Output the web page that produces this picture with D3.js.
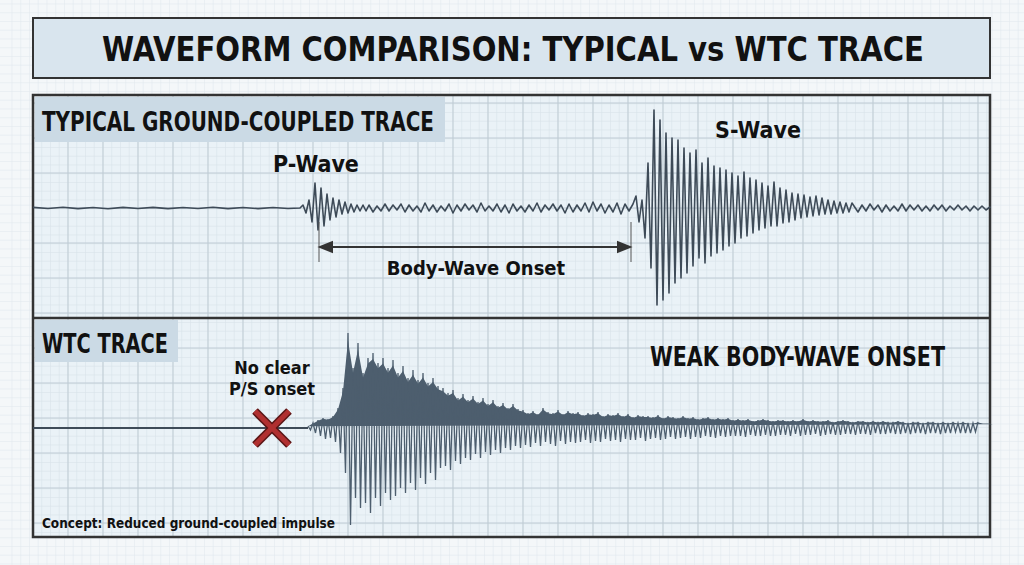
<!DOCTYPE html>
<html><head><meta charset="utf-8">
<script src="https://cdn.jsdelivr.net/npm/d3@7"></script>
<style>body{margin:0;background:#f4f7f9}text{font-family:"Liberation Sans Narrow","DejaVu Sans Condensed",sans-serif;font-weight:bold;fill:#111}</style>
</head><body><svg id="c" width="1024" height="565"></svg>
<script>
// Typical trace: segments of alternating peak amplitudes (time units 0..957)
const topSegments = [
 {start:0, step:15, values:[0.6,-0.5,0.7,-0.6,0.5,-0.7,0.6,-0.5,0.6,-0.6,0.5,-0.5,0.7,-0.6,0.5,-0.6,0.5,-0.5]},
 {start:267, step:3, values:[0,3,-5,8,-14,25,-22,20,-18,14,-12,10,-9,8,-6,6,-5,4,-4,3,-3,3,-3]},
 {start:336, step:4, values:[3,-4,2,-3,4,-3,3,-2,4,-4,3,-3,2,-4,5,-3,3,-4,2,-3,4,-5,3,-3,4,-2,3,-4,5,-3,2,-3,4,-4,3,-5,4,-3,2,-4,3,-3,5,-4,3,-2,4,-3,3,-5,4,-4,3,-3,5,-4,6,-3,4,-5,3,-4,5,-6,4,-3]},
 {start:600, step:3, values:[4,12,-14,8,-30,45,-60,98,-97,88,-92,75,-85,70,-75,68,-70,60,-65,55,-58,58,-50,45,-55,50,-48,42,-45,40,-42,38,-38,35,-35,32,-30,36,-28,30,-25,28,-22,25,-20,22,-18,26,-18,20,-15,18,-14,15,-12,14,-10,13,-9,11,-8,12,-7,10,-6,8,-6,7,-5,6,-5,5,-4,5]},
 {start:825, step:4, values:[-4,3,-3,4,-2,3,-4,3,-3,2,-3,4,-3,3,-2,3,-3,2,-3,3,-2,3,-3,2,-2,3,-2,2,-3,2,-2,2,-2,1]}
];
// WTC trace envelope (upper and lower magnitudes), start 275, step 5
const wtcStart = 275, wtcStep = 5;
const wtcUpper = [2,5,8,10,9,12,20, 40,95,60,85,55,70,75,65,70,60,68,55,62,50,58,48,55,45,50,42,
 40,35,38,30,34,28,32,26,30,24,28,22,25,20,24,19,
 18,15,17,14,20,16,15,18,14,17,15,16,13,15,14,16,12,14,13,15,12,14,11,13,12,12,11,13,10,12,11,10,12,10,11,9,10,11,9,10,9,10,8,
 9,8,9,7,8,9,8,7,8,8,7,8,7,9,7,8,7,7,8,6,7,8,7,6,7,7,6,7,6,7,6,6,7,6,5,6,6,5,6,6,5,6,5,6,5,6,5,5,6,5,5,4];
const wtcLower = [2,5,8,11,10,14,25, 45,97,70,80,75,85,70,78,65,72,68,60,65,55,62,50,56,45,52,40,
 38,42,33,36,30,32,26,30,24,27,22,25,20,22,18,20,
 17,19,15,18,14,16,18,13,16,14,15,14,12,15,13,14,11,13,12,14,11,12,12,10,13,11,10,12,11,9,11,10,9,11,9,10,8,9,10,8,9,8,8,
 8,9,7,8,8,7,8,8,7,7,8,6,8,7,7,6,8,7,6,7,7,6,6,7,6,6,7,5,6,6,5,6,6,5,6,5,5,6,5,5,6,5,5,4,5,5,5,4];

const svg = d3.select("#c");
const X0=33, X1=990;
const g0 = svg.append("g");
for(let x=12;x<1024;x+=8.75) g0.append("line").attr("x1",x).attr("x2",x).attr("y1",0).attr("y2",565).attr("stroke","#e3e9ee").attr("stroke-width",0.6);
for(let y=4;y<565;y+=8.75) g0.append("line").attr("y1",y).attr("y2",y).attr("x1",0).attr("x2",1024).attr("stroke","#e3e9ee").attr("stroke-width",0.6);
svg.append("rect").attr("x",X0).attr("y",95).attr("width",X1-X0).attr("height",442).attr("fill","#eaf2f7");
const gg = svg.append("g");
for(let x=X0;x<=X1;x+=8.75) gg.append("line").attr("x1",x).attr("x2",x).attr("y1",95).attr("y2",537).attr("stroke","#d9e3ea").attr("stroke-width",0.6);
for(let y=95;y<=537;y+=8.75) gg.append("line").attr("y1",y).attr("y2",y).attr("x1",X0).attr("x2",X1).attr("stroke","#d9e3ea").attr("stroke-width",0.6);
for(let x=X0+35;x<X1;x+=35) gg.append("line").attr("x1",x).attr("x2",x).attr("y1",95).attr("y2",537).attr("stroke","#bfcbd4").attr("stroke-width",1);
for(let y=103;y<537;y+=35) gg.append("line").attr("y1",y).attr("y2",y).attr("x1",X0).attr("x2",X1).attr("stroke","#bfcbd4").attr("stroke-width",1);
svg.append("rect").attr("x",X0).attr("y",95).attr("width",X1-X0).attr("height",442).attr("fill","none").attr("stroke","#333").attr("stroke-width",2.5);
svg.append("line").attr("x1",X0).attr("x2",X1).attr("y1",318).attr("y2",318).attr("stroke","#333").attr("stroke-width",2.5);
svg.append("rect").attr("x",X0).attr("y",18).attr("width",X1-X0).attr("height",60).attr("fill","#d9e5ee").attr("stroke","#333").attr("stroke-width",2);
svg.append("text").attr("x",102).attr("y",61).attr("font-size",33).attr("textLength",822).attr("lengthAdjust","spacingAndGlyphs").text("WAVEFORM COMPARISON: TYPICAL vs WTC TRACE");

const x = d3.scaleLinear().domain([0,957]).range([X0,X1]);
const yTop = d3.scaleLinear().domain([-100,100]).range([308,108]);
const yBot = d3.scaleLinear().domain([-100,100]).range([528,328]);

const pts=[];
topSegments.forEach(s=>s.values.forEach((v,i)=>pts.push([s.start+i*s.step,v])));
pts.push([957,0]);
svg.append("path").attr("d",d3.line().x(d=>x(d[0])).y(d=>yTop(d[1]))(pts)).attr("fill","none").attr("stroke","#3e4b58").attr("stroke-width",1.6).attr("stroke-linejoin","round");

svg.append("line").attr("x1",x(0)).attr("x2",x(wtcStart)).attr("y1",yBot(0)).attr("y2",yBot(0)).attr("stroke","#3e4b58").attr("stroke-width",2);
const env = wtcUpper.map((u,i)=>({t:wtcStart+i*wtcStep,u,l:wtcLower[i]}));
svg.append("path").attr("d",d3.area().x(d=>x(d.t)).y0(d=>yBot(-d.l*0.92)).y1(d=>yBot(d.u*0.92))(env)).attr("fill","#4d5e6e");
const zz=[];
env.forEach(d=>{zz.push([d.t,d.u]);zz.push([d.t+wtcStep/2,-d.l]);});
svg.append("path").attr("d",d3.line().x(d=>x(d[0])).y(d=>yBot(d[1]))(zz)).attr("fill","none").attr("stroke","#4d5e6e").attr("stroke-width",1.3);

svg.append("rect").attr("x",35).attr("y",97).attr("width",410).attr("height",45).attr("fill","#cbdae5");
svg.append("text").attr("x",42).attr("y",131).attr("font-size",26).attr("textLength",392).attr("lengthAdjust","spacingAndGlyphs").text("TYPICAL GROUND-COUPLED TRACE");
svg.append("rect").attr("x",35).attr("y",320).attr("width",143).attr("height",42).attr("fill","#cbdae5");
svg.append("text").attr("x",42).attr("y",353).attr("font-size",26).attr("textLength",126).attr("lengthAdjust","spacingAndGlyphs").text("WTC TRACE");
svg.append("text").attr("x",316).attr("y",172).attr("text-anchor","middle").attr("font-size",23).text("P-Wave");
svg.append("text").attr("x",758).attr("y",138).attr("text-anchor","middle").attr("font-size",23).text("S-Wave");
svg.append("defs").html('<marker id="ah" viewBox="0 0 10 10" refX="9" refY="5" markerWidth="8" markerHeight="8" orient="auto-start-reverse"><path d="M0,1 L10,5 L0,9 z" fill="#333"/></marker>');
const ay=247;
svg.append("line").attr("x1",x(286)).attr("x2",x(598)).attr("y1",ay).attr("y2",ay).attr("stroke","#333").attr("stroke-width",2).attr("marker-start","url(#ah)").attr("marker-end","url(#ah)");
[286,598].forEach(t=>svg.append("line").attr("x1",x(t)).attr("x2",x(t)).attr("y1",222).attr("y2",262).attr("stroke","#555").attr("stroke-width",1));
svg.append("text").attr("x",476).attr("y",275).attr("text-anchor","middle").attr("font-size",20).text("Body-Wave Onset");
svg.append("text").attr("x",272).attr("y",374).attr("text-anchor","middle").attr("font-size",18).text("No clear");
svg.append("text").attr("x",272).attr("y",395).attr("text-anchor","middle").attr("font-size",18).text("P/S onset");
const cx=272, cy=428, r=17;
[["#5a1515",8],["#b03030",5]].forEach(([c,w])=>{
 svg.append("line").attr("x1",cx-r).attr("y1",cy-r).attr("x2",cx+r).attr("y2",cy+r).attr("stroke",c).attr("stroke-width",w);
 svg.append("line").attr("x1",cx-r).attr("y1",cy+r).attr("x2",cx+r).attr("y2",cy-r).attr("stroke",c).attr("stroke-width",w);
});
svg.append("text").attr("x",650).attr("y",366).attr("font-size",27).attr("textLength",295).attr("lengthAdjust","spacingAndGlyphs").text("WEAK BODY-WAVE ONSET");
svg.append("text").attr("x",42).attr("y",528).attr("font-size",14).attr("textLength",293).attr("lengthAdjust","spacingAndGlyphs").text("Concept: Reduced ground-coupled impulse");
</script></body></html>
